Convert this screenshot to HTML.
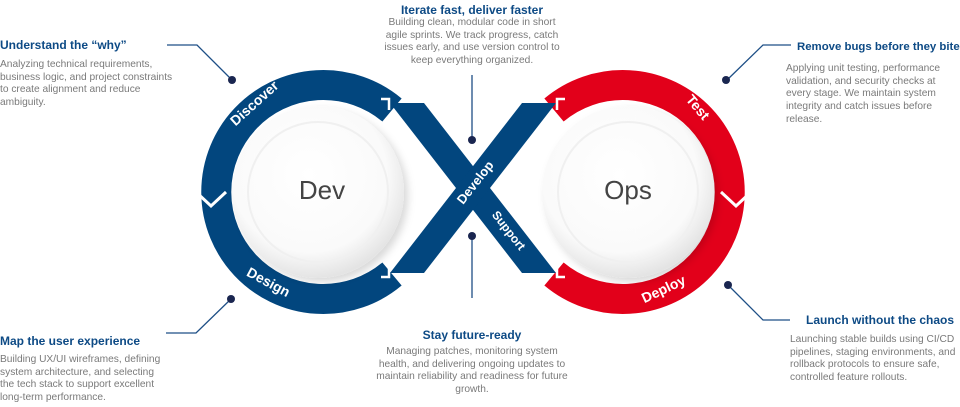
<!DOCTYPE html>
<html><head><meta charset="utf-8"><style>
body{margin:0;width:960px;height:407px;overflow:hidden;background:#fff;font-family:"Liberation Sans",sans-serif;position:relative}
.t{position:absolute;color:#0d4a85;font-weight:bold;font-size:12px;white-space:nowrap}
.b{position:absolute;color:#7a7a7a;font-size:10.2px;line-height:12.7px}
</style></head><body>
<svg width="960" height="407" style="position:absolute;left:0;top:0">
<defs>
<radialGradient id="g" cx="45%" cy="40%" r="60%"><stop offset="0" stop-color="#fff"/><stop offset="0.75" stop-color="#fafafa"/><stop offset="1" stop-color="#e4e4e4"/></radialGradient>
<filter id="s" x="-20%" y="-20%" width="140%" height="140%"><feDropShadow dx="4" dy="4" stdDeviation="4" flood-color="#000" flood-opacity="0.15"/></filter>
</defs>
<path d="M392,110 A107,107 0 1 0 392,274" fill="none" stroke="#02467e" stroke-width="30"/>
<path d="M554,110 A107,107 0 1 1 554,274" fill="none" stroke="#e2001a" stroke-width="30"/>
<polygon points="390,103 424,103 556,273 522,273" fill="#02467e"/>
<polygon points="522,103 556,103 424,273 390,273" fill="#02467e"/>
<polyline points="196,192 211,206 226,192" fill="none" stroke="#fff" stroke-width="3"/>
<polyline points="721,192 736,206 751,192" fill="none" stroke="#fff" stroke-width="3"/>
<polyline points="381,99 389,99 389,110" fill="none" stroke="#fff" stroke-width="2.5"/>
<polyline points="565,99 557,99 557,110" fill="none" stroke="#fff" stroke-width="2.5"/>
<polyline points="381,277 389,277 389,266" fill="none" stroke="#fff" stroke-width="2.5"/>
<polyline points="565,277 557,277 557,266" fill="none" stroke="#fff" stroke-width="2.5"/>
<circle cx="318" cy="192" r="86" fill="url(#g)" filter="url(#s)"/>
<circle cx="628" cy="192" r="86" fill="url(#g)" filter="url(#s)"/>
<circle cx="318" cy="192" r="70" fill="none" stroke="#f0f0f0" stroke-width="2"/>
<circle cx="628" cy="192" r="70" fill="none" stroke="#f0f0f0" stroke-width="2"/>
<text x="322" y="199" font-size="26" fill="#444" text-anchor="middle" font-family="Liberation Sans">Dev</text>
<text x="628" y="199" font-size="26" fill="#444" text-anchor="middle" font-family="Liberation Sans">Ops</text>
<g fill="#fff" font-size="14" font-family="Liberation Sans" text-anchor="middle" font-weight="bold" dominant-baseline="middle">
<text transform="translate(255,104) rotate(-42)">Discover</text>
<text transform="translate(268,283) rotate(28)">Design</text>
<text transform="translate(697,108) rotate(50)">Test</text>
<text transform="translate(664,290) rotate(-25)">Deploy</text>
<text transform="translate(476,183) rotate(-52)" font-size="13">Develop</text>
<text transform="translate(508,231) rotate(52)" font-size="12">Support</text>
</g>
<g stroke="#1e4f86" stroke-width="1.3" fill="none">
<polyline points="167,45 197,45 232,80"/>
<polyline points="166,333 196,333 231,299"/>
<line x1="472" y1="75" x2="472" y2="140"/>
<line x1="472" y1="236" x2="472" y2="298"/>
<polyline points="791,45 763,45 727,80"/>
<polyline points="790,320 763,320 729,286"/>
</g>
<g fill="#1a2650">
<circle cx="232" cy="80" r="4"/><circle cx="231" cy="299" r="4"/>
<circle cx="472" cy="140" r="4"/><circle cx="472" cy="236" r="4"/>
<circle cx="726" cy="80" r="4"/><circle cx="728" cy="285" r="4"/>
</g>
</svg>
<div class="t" style="left:0;top:38px">Understand the “why”</div>
<div class="b" style="left:0;top:59px;width:180px">Analyzing technical requirements, business logic, and project constraints to create alignment and reduce ambiguity.</div>
<div class="t" style="left:0;top:334px">Map the user experience</div>
<div class="b" style="left:0;top:354px;width:170px">Building UX/UI wireframes, defining system architecture, and selecting the tech stack to support excellent long-term performance.</div>
<div class="t" style="left:372px;top:3px;width:200px;text-align:center">Iterate fast, deliver faster</div>
<div class="b" style="left:380px;top:17px;width:184px;text-align:center">Building clean, modular code in short agile sprints. We track progress, catch issues early, and use version control to keep everything organized.</div>
<div class="t" style="left:372px;top:328px;width:200px;text-align:center">Stay future-ready</div>
<div class="b" style="left:375px;top:346px;width:194px;text-align:center">Managing patches, monitoring system health, and delivering ongoing updates to maintain reliability and readiness for future growth.</div>
<div class="t" style="left:797px;top:41px;font-size:11.4px">Remove bugs before they bite</div>
<div class="b" style="left:786px;top:63px;width:160px">Applying unit testing, performance validation, and security checks at every stage. We maintain system integrity and catch issues before release.</div>
<div class="t" style="left:806px;top:313px">Launch without the chaos</div>
<div class="b" style="left:790px;top:334px;width:168px">Launching stable builds using CI/CD pipelines, staging environments, and rollback protocols to ensure safe, controlled feature rollouts.</div>
</body></html>
